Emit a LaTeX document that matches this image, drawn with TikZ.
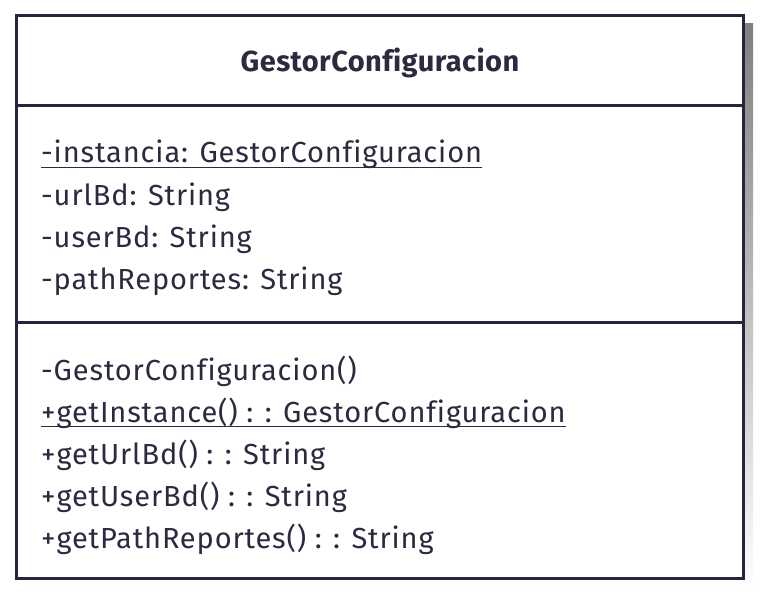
\documentclass[tikz,border=0pt]{standalone}
\usepackage{fontspec}
\setmainfont{Fira Sans}[Ligatures=NoCommon,LetterSpace=3]
\newfontfamily\titlefont{Fira Sans}[Ligatures=NoCommon,LetterSpace=1.5]
\definecolor{ink}{HTML}{26253D}
\definecolor{txt}{HTML}{2B2A40}
\definecolor{shade}{HTML}{EEEEEE}
\begin{document}
\begin{tikzpicture}[x=1pt,y=-1pt,
  member/.style={anchor=base west,inner sep=0pt,text=txt,font=\fontsize{29}{34}\selectfont},
  title/.style={anchor=base,inner sep=0pt,text=txt,font=\titlefont\fontsize{29}{34}\selectfont\bfseries},
  frame/.style={draw=ink,line width=3pt},
  ul/.style={draw=txt,line width=1.6pt}]
\useasboundingbox (0,0) rectangle (760,596);
\fill[shade] (24,24) rectangle (753,590);
\fill[white] (16.5,15.5) rectangle (743.5,578.5);
\draw[frame] (16.5,15.5) rectangle (743.5,578.5);
\draw[frame] (16.5,106) -- (743.5,106);
\draw[frame] (16.5,322) -- (743.5,322);
\node[title] (t) at (380,72) {GestorConfiguracion};
\node[member] (a1) at (41,163) {-instancia: GestorConfiguracion};
\node[member] (a2) at (41,205) {-urlBd: String};
\node[member] (a3) at (41,247) {-userBd: String};
\node[member] (a4) at (41,289) {-pathReportes: String};
\node[member] (m1) at (41,380) {-GestorConfiguracion()};
\node[member] (m2) at (41,422) {+getInstance() : : GestorConfiguracion};
\node[member] (m3) at (41,464) {+getUrlBd() : : String};
\node[member] (m4) at (41,506) {+getUserBd() : : String};
\node[member] (m5) at (41,548) {+getPathReportes() : : String};
\draw[ul] ([yshift=-4.5pt]a1.base west) -- ([yshift=-4.5pt]a1.base east);
\draw[ul] ([yshift=-4.5pt]m2.base west) -- ([yshift=-4.5pt]m2.base east);
\end{tikzpicture}
\end{document}
